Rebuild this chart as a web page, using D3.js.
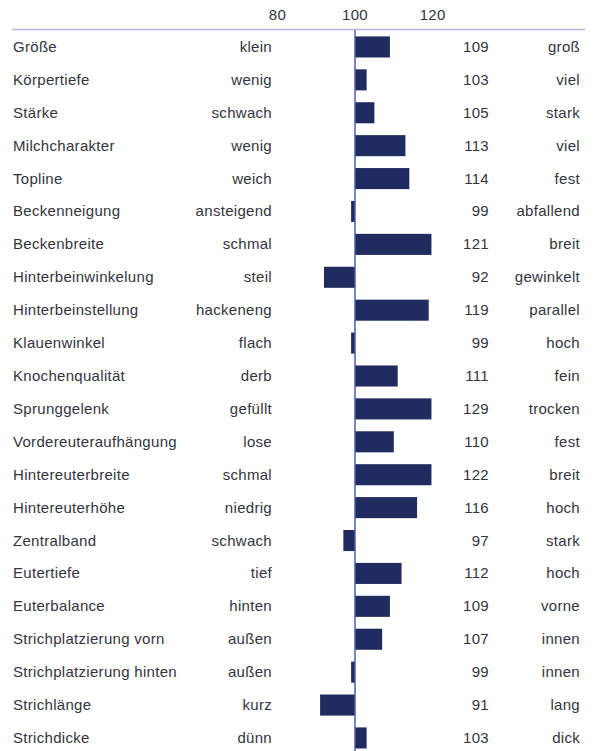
<!DOCTYPE html>
<html>
<head>
<meta charset="utf-8">
<script src="https://cdn.jsdelivr.net/npm/d3@7"></script>
<style>
  body { margin: 0; background: #fff; }
  svg { display: block; }
  text { font-family: "Liberation Sans", Arial, sans-serif; font-size: 15px; letter-spacing: 0.3px; fill: #34343e; }
</style>
</head>
<body>
<div id="chart"></div>
<script>
// traits, left/right pole labels and breeding values
const traits = ["Größe", "Körpertiefe", "Stärke", "Milchcharakter", "Topline", "Beckenneigung",
    "Beckenbreite", "Hinterbeinwinkelung", "Hinterbeinstellung", "Klauenwinkel", "Knochenqualität",
    "Sprunggelenk", "Vordereuteraufhängung", "Hintereuterbreite", "Hintereuterhöhe", "Zentralband",
    "Eutertiefe", "Euterbalance", "Strichplatzierung vorn", "Strichplatzierung hinten", "Strichlänge", "Strichdicke"];
const lowLabels = ["klein", "wenig", "schwach", "wenig", "weich", "ansteigend", "schmal", "steil",
    "hackeneng", "flach", "derb", "gefüllt", "lose", "schmal", "niedrig", "schwach", "tief", "hinten",
    "außen", "außen", "kurz", "dünn"];
const highLabels = ["groß", "viel", "stark", "viel", "fest", "abfallend", "breit", "gewinkelt",
    "parallel", "hoch", "fein", "trocken", "fest", "breit", "hoch", "stark", "hoch", "vorne",
    "innen", "innen", "lang", "dick"];
const values = [109, 103, 105, 113, 114, 99, 121, 92, 119, 99, 111, 129, 110, 122, 116, 97, 112, 109, 107, 99, 91, 103];
const tickValues = [80, 100, 120];

const width = 596, height = 751;

const svg = d3.select("#chart").append("svg")
    .attr("width", width)
    .attr("height", height);

// value scale: 100 sits at x=355, bars are cut at the right edge of the plot
const x = d3.scaleLinear().domain([80, 120]).range([277.4, 432.6]);
const xMax = 119.7;

const y = d3.scaleBand()
    .domain(traits)
    .range([30.5, 754.4])
    .paddingInner(0.36)
    .paddingOuter(0.18);

// top rule
svg.append("line")
    .attr("x1", 12).attr("x2", 585)
    .attr("y1", 29.5).attr("y2", 29.5)
    .style("stroke", "#b9b5d8")
    .style("stroke-width", 1.5);

// tick labels on top
svg.selectAll(".tick-label")
    .data(tickValues)
    .enter().append("text")
    .attr("class", "tick-label")
    .attr("x", d => x(d))
    .attr("y", 20)
    .attr("text-anchor", "middle")
    .text(d => d);

// bars
svg.selectAll(".bar")
    .data(values)
    .enter().append("rect")
    .attr("class", "bar")
    .attr("x", d => x(Math.min(d, 100)))
    .attr("y", (d, i) => y(traits[i]))
    .attr("width", d => Math.abs(x(Math.min(d, xMax)) - x(100)))
    .attr("height", y.bandwidth())
    .style("fill", "#202b60");

// baseline at 100
svg.append("line")
    .attr("x1", x(100)).attr("x2", x(100))
    .attr("y1", 30).attr("y2", height)
    .style("stroke", "#4d5cae")
    .style("stroke-width", 1.5);

const rowY = name => y(name) + y.bandwidth() / 2 + 5;

// trait names
svg.selectAll(".trait")
    .data(traits)
    .enter().append("text")
    .attr("x", 13)
    .attr("y", d => rowY(d))
    .text(d => d);

// low pole labels
svg.selectAll(".low")
    .data(lowLabels)
    .enter().append("text")
    .attr("x", 272)
    .attr("y", (d, i) => rowY(traits[i]))
    .attr("text-anchor", "end")
    .text(d => d);

// values
svg.selectAll(".val")
    .data(values)
    .enter().append("text")
    .attr("x", 489)
    .attr("y", (d, i) => rowY(traits[i]))
    .attr("text-anchor", "end")
    .text(d => d);

// high pole labels
svg.selectAll(".high")
    .data(highLabels)
    .enter().append("text")
    .attr("x", 580)
    .attr("y", (d, i) => rowY(traits[i]))
    .attr("text-anchor", "end")
    .text(d => d);
</script>
</body>
</html>
